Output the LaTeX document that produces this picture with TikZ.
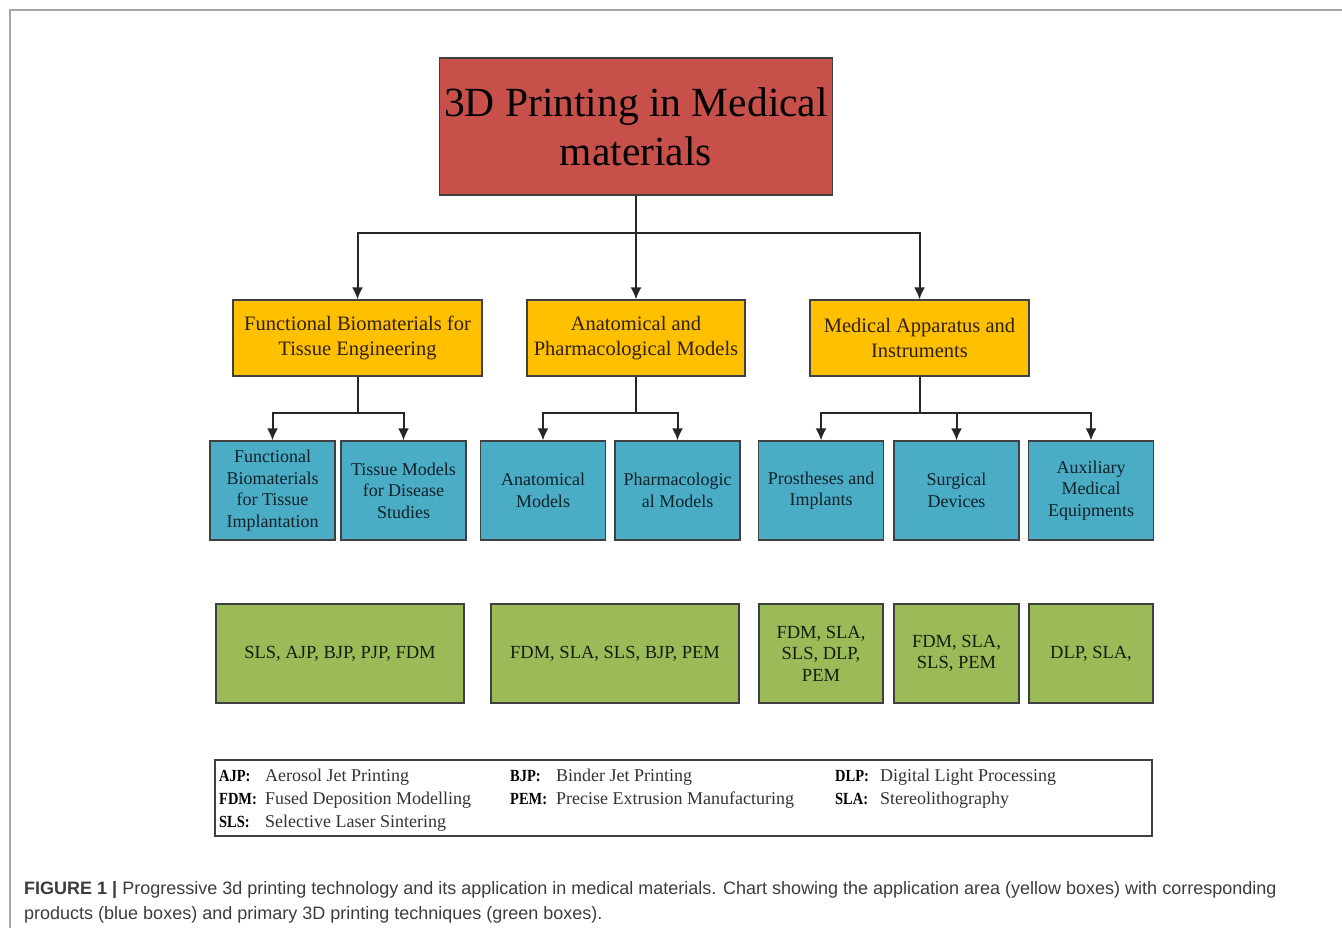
\documentclass[tikz,border=0pt]{standalone}
\usepackage{fontspec}
\setmainfont{Liberation Serif}
\newfontfamily\capfont{Liberation Sans}
\usetikzlibrary{arrows.meta}
\definecolor{titlered}{RGB}{200,80,74}
\definecolor{areayellow}{RGB}{255,192,0}
\definecolor{prodblue}{RGB}{75,172,198}
\definecolor{techgreen}{RGB}{155,187,89}
\definecolor{boxline}{RGB}{64,64,64}
\definecolor{captext}{RGB}{60,60,60}
\begin{document}
\begin{tikzpicture}[x=1pt,y=-1pt,
	box/.style={draw=boxline, line width=1.2pt, align=center, inner sep=0pt},
	areabox/.style={box, fill=areayellow, text=black!75!brown, minimum height=76pt, font=\fontsize{20.5}{25}\selectfont},
	prodbox/.style={box, fill=prodblue, text=black!80!prodblue, minimum width=125pt, minimum height=99pt, font=\fontsize{18}{21.5}\selectfont},
	techbox/.style={box, fill=techgreen, text=black!85!techgreen, minimum height=99pt, font=\fontsize{18.5}{21.5}\selectfont},
	link/.style={line width=2pt, draw=black!85},
	arr/.style={link, -{Latex[length=12pt,width=11pt]}},
	abbr/.style={anchor=base west, inner sep=0pt, font=\fontsize{17}{20}\selectfont\bfseries},
	expl/.style={anchor=base west, inner sep=0pt, text=black!80, font=\fontsize{18}{20}\selectfont},
	captext/.style={anchor=base west, inner sep=0pt, text=captext, font=\capfont\fontsize{18}{20}\selectfont}]
	\useasboundingbox (0,0) rectangle (1342,928);
	\draw[gray!70, line width=1.2pt] (1342,10) -- (10,10) -- (10,928);

	\node[box, fill=titlered, minimum width=393pt, minimum height=137pt, font=\fontsize{41.5}{49}\selectfont] (title) at (636,126.5) {3D Printing in Medical\\materials};

	\node[areabox, minimum width=249pt] (fb) at (357.5,338) {Functional Biomaterials for\\Tissue Engineering};
	\node[areabox, minimum width=218pt] (ap) at (636,338) {Anatomical and\\Pharmacological Models};
	\node[areabox, minimum width=219pt] (ma) at (919.5,338) {Medical Apparatus and\\Instruments};

	\node[prodbox] (fbti) at (272.5,490.5) {Functional\\Biomaterials\\for Tissue\\Implantation};
	\node[prodbox] (tmds) at (403.5,490.5) {Tissue Models\\for Disease\\Studies};
	\node[prodbox] (anat) at (543,490.5) {Anatomical\\Models};
	\node[prodbox] (pharm) at (677.5,490.5) {Pharmacologic\\al Models};
	\node[prodbox] (prost) at (821,490.5) {Prostheses and\\Implants};
	\node[prodbox] (surg) at (956.5,490.5) {Surgical\\Devices};
	\node[prodbox] (aux) at (1091,490.5) {Auxiliary\\Medical\\Equipments};

	\node[techbox, minimum width=248pt] (tfb) at (340,653.5) {SLS, AJP, BJP, PJP, FDM};
	\node[techbox, minimum width=248pt] (tap) at (615,653.5) {FDM, SLA, SLS, BJP, PEM};
	\node[techbox, minimum width=124pt] (tpi) at (821,653.5) {FDM, SLA,\\SLS, DLP,\\PEM};
	\node[techbox, minimum width=125pt] (tsd) at (956.5,653.5) {FDM, SLA,\\SLS, PEM};
	\node[techbox, minimum width=124pt] (tae) at (1091,653.5) {DLP, SLA,};

	\coordinate (j0) at (636,233);
	\coordinate (j1) at (357.5,413);
	\coordinate (j2) at (636,413);
	\coordinate (j3) at (919.5,413);
	\draw[link] (title.south) -- (j0);
	\draw[arr] (j0) -| (fb.north);
	\draw[arr] (j0) -- (ap.north);
	\draw[arr] (j0) -| (ma.north);
	\draw[link] (fb.south) -- (j1);
	\draw[arr] (j1) -| (fbti.north);
	\draw[arr] (j1) -| (tmds.north);
	\draw[link] (ap.south) -- (j2);
	\draw[arr] (j2) -| (anat.north);
	\draw[arr] (j2) -| (pharm.north);
	\draw[link] (ma.south) -- (j3);
	\draw[arr] (j3) -| (prost.north);
	\draw[arr] (j3) -| (surg.north);
	\draw[arr] (j3) -| (aux.north);

	\node[draw=boxline, line width=1.2pt, minimum width=937pt, minimum height=76pt] (legend) at (683.5,798) {};
	\node[abbr] (kajp) at (219,781) {\scalebox{0.85}[1]{AJP:}};
	\node[expl] at (265,781) {Aerosol Jet Printing};
	\node[abbr] (kfdm) at (219,804) {\scalebox{0.85}[1]{FDM:}};
	\node[expl] at (265,804) {Fused Deposition Modelling};
	\node[abbr] (ksls) at (219,827) {\scalebox{0.85}[1]{SLS:}};
	\node[expl] at (265,827) {Selective Laser Sintering};
	\node[abbr] (kbjp) at (510,781) {\scalebox{0.85}[1]{BJP:}};
	\node[expl] at (556,781) {Binder Jet Printing};
	\node[abbr] (kpem) at (510,804) {\scalebox{0.85}[1]{PEM:}};
	\node[expl] at (556,804) {Precise Extrusion Manufacturing};
	\node[abbr] (kdlp) at (835,781) {\scalebox{0.85}[1]{DLP:}};
	\node[expl] at (880,781) {Digital Light Processing};
	\node[abbr] (ksla) at (835,804) {\scalebox{0.85}[1]{SLA:}};
	\node[expl] at (880,804) {Stereolithography};

	\node[captext] (cap1) at (24,894) {\textbf{FIGURE 1 |} Progressive 3d printing technology and its application in medical materials. Chart showing the application area (yellow boxes) with corresponding};
	\node[captext] (cap2) at (24,919) {products (blue boxes) and primary 3D printing techniques (green boxes).};
\end{tikzpicture}
\end{document}
